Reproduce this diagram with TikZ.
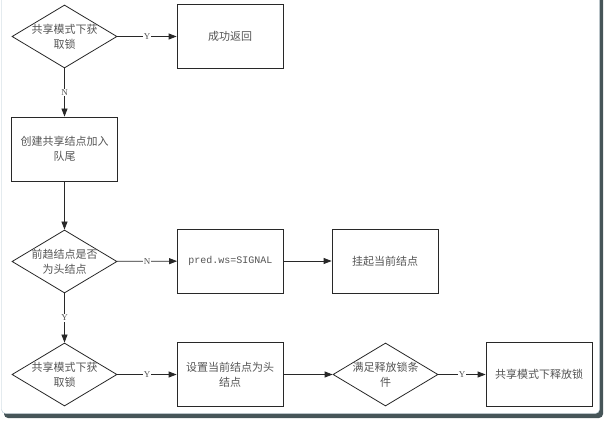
\documentclass[tikz,border=0pt]{standalone}
\usepackage{fontspec}
\setmainfont{Liberation Serif}
\newfontfamily\cjk{Noto Sans CJK SC}
\newfontfamily\monof{Liberation Mono}
\usepackage{tikz}
\usetikzlibrary{arrows.meta,shapes.geometric}
\definecolor{lineC}{RGB}{40,40,40}
\definecolor{textC}{RGB}{85,85,85}
\definecolor{frameC}{RGB}{180,200,212}
\definecolor{shadowC}{RGB}{70,85,88}
\tikzset{
  stepbox/.style={draw=lineC, thick, minimum width=106pt, minimum height=64pt,
    inner sep=0pt, align=center, text=textC, font=\cjk\fontsize{11}{15}\selectfont},
  decision/.style={draw=lineC, thick, diamond, minimum width=105pt, minimum height=63pt,
    inner sep=0pt},
  dtext/.style={text=textC, align=center, font=\cjk\fontsize{11}{15}\selectfont},
  flow/.style={draw=lineC, thick, -{Triangle[length=8pt,width=6pt]}},
  yn/.style={midway, fill=white, inner sep=1pt, text=textC, font=\fontsize{9}{10}\selectfont}
}
\begin{document}
\begin{tikzpicture}[x=1pt,y=-1pt]
    \useasboundingbox (0,0) rectangle (605,422);
    % frame with shadow
    \fill[shadowC, rounded corners=4pt] (4,-10) rectangle (603,418);
    \draw[frameC, fill=white, rounded corners=4pt] (1.5,-10) rectangle (599.5,413.5);
    % first row
    \node[decision, label={[dtext]center:共享模式下获\\取锁}] (acq1) at (64.5,36.5) {};
    \node[stepbox] (ret) at (230,36.5) {成功返回};
    % enqueue
    \node[stepbox] (enq) at (64.5,149) {创建共享结点加入\\队尾};
    % predecessor check
    \node[decision, label={[dtext]center:前趋结点是否\\为头结点}] (pred) at (64.5,261.5) {};
    \node[stepbox, font=\monof\fontsize{10}{12}\selectfont] (sig) at (230.5,261) {pred.ws=SIGNAL};
    \node[stepbox] (park) at (385,261) {挂起当前结点};
    % last row
    \node[decision, label={[dtext]center:共享模式下获\\取锁}] (acq2) at (64.5,374.5) {};
    \node[stepbox] (head) at (230,374.5) {设置当前结点为头\\结点};
    \node[decision, label={[dtext]center:满足释放锁条\\件}] (cond) at (385.5,374.5) {};
    \node[stepbox] (rel) at (539,374.5) {共享模式下释放锁};
    % connectors
    \draw[flow] (acq1) -- node[yn]{Y} (ret);
    \draw[flow] (acq1) -- node[yn]{N} (enq);
    \draw[flow] (enq) -- (pred);
    \draw[flow] (pred) -- node[yn]{N} (sig);
    \draw[flow] (sig) -- (park);
    \draw[flow] (pred) -- node[yn]{Y} (acq2);
    \draw[flow] (acq2) -- node[yn]{Y} (head);
    \draw[flow] (head) -- (cond);
    \draw[flow] (cond) -- node[yn]{Y} (rel);
\end{tikzpicture}
\end{document}
